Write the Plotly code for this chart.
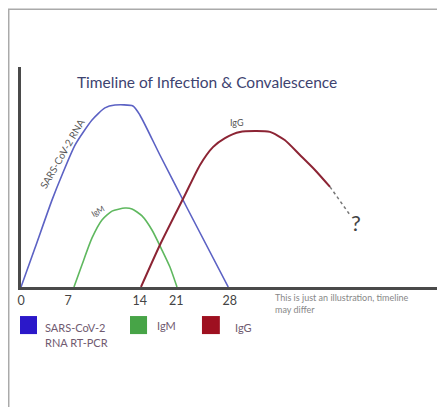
import plotly.graph_objects as go

# --- data (illustrative timeline, x in days-like units, y relative level) ---
rna_x = [0, 1.88, 4.17, 5.52, 7.27, 9.56, 11.3, 12.65, 15.07, 16.0, 18.7, 22.5, 27.9]
rna_y = [0, 17.7, 39.5, 50.9, 64.5, 75.9, 81.4, 82.7, 82.3, 78.2, 60.0, 35.0, 0]

igm_x = [7.13, 8.2, 9.56, 10.9, 12.25, 14.0, 14.94, 16.29, 17.63, 18.98, 20.05, 21.0]
igm_y = [0, 10, 22.3, 30.5, 34.5, 35.9, 35.5, 32.3, 25.9, 16.8, 9.1, 0]

igg_x = [16.15, 18.7, 22.07, 24.1, 25.84, 27.46, 29.47, 33.5, 35.5, 37.55, 39.57, 41.6]
igg_y = [0, 19.1, 41.8, 55.5, 63.6, 67.7, 70.5, 70.5, 66.8, 60.0, 53.2, 45.5]

igg_unknown_x = [41.6, 44.3]
igg_unknown_y = [45.5, 32.7]

tick_pos = [0, 6.33, 16.0, 20.9, 28.1]
tick_labels = ["0", "7", "14", "21", "28"]

BLUE, GREEN, RED = "#5c62c4", "#5fb85f", "#8c2434"

fig = go.Figure()
fig.add_trace(go.Scatter(x=rna_x, y=rna_y, mode="lines",
                         line=dict(color=BLUE, width=1.6, shape="spline", smoothing=0.6)))
fig.add_trace(go.Scatter(x=igm_x, y=igm_y, mode="lines",
                         line=dict(color=GREEN, width=1.6, shape="spline", smoothing=0.6)))
fig.add_trace(go.Scatter(x=igg_x, y=igg_y, mode="lines",
                         line=dict(color=RED, width=2, shape="spline", smoothing=0.6)))
fig.add_trace(go.Scatter(x=igg_unknown_x, y=igg_unknown_y, mode="lines",
                         line=dict(color="#777777", width=1.5, dash="dot")))

FONT = "Lato"
LEG = "#705a70"

annotations = [
    dict(text="Timeline of Infection & Convalescence", xref="paper", yref="paper",
         x=0.447, y=0.932, xanchor="center", yanchor="middle", showarrow=False,
         font=dict(family=FONT, size=15.5, color="#3d4370")),
    dict(text="IgG", x=29.07, y=75, showarrow=False, font=dict(family=FONT, size=9, color="#555555")),
    dict(text="IgM", x=10.36, y=34.5, showarrow=False, textangle=-30,
         font=dict(family=FONT, size=8, color="#555555")),
    dict(text="SARS-CoV-2 RNA", x=5.5, y=60.5, showarrow=False, textangle=-60,
         font=dict(family=FONT, size=10, color="#555555")),
    dict(text="?", x=45.1, y=29.5, showarrow=False, font=dict(family=FONT, size=22, color="#444444")),
    dict(text="This is just an illustration, timeline<br>may differ", xref="paper", yref="paper",
         x=0.606, y=-0.012, xanchor="left", yanchor="top", align="left", showarrow=False,
         font=dict(family=FONT, size=9, color="#888888")),
    dict(text="SARS-CoV-2", xref="paper", yref="paper", x=0.053, y=-0.182, xanchor="left",
         yanchor="middle", showarrow=False, font=dict(family=FONT, size=11, color=LEG)),
    dict(text="RNA RT-PCR", xref="paper", yref="paper", x=0.053, y=-0.25, xanchor="left",
         yanchor="middle", showarrow=False, font=dict(family=FONT, size=11, color=LEG)),
    dict(text="IgM", xref="paper", yref="paper", x=0.322, y=-0.177, xanchor="left",
         yanchor="middle", showarrow=False, font=dict(family=FONT, size=11, color=LEG)),
    dict(text="IgG", xref="paper", yref="paper", x=0.51, y=-0.182, xanchor="left",
         yanchor="middle", showarrow=False, font=dict(family=FONT, size=11, color=LEG)),
]

shapes = [
    dict(type="rect", xref="paper", yref="paper", x0=-0.0295, x1=1.3, y0=-0.8, y1=1.262,
         line=dict(color="#aaaaaa", width=1.5), fillcolor="rgba(0,0,0,0)", layer="below"),
    dict(type="rect", xref="paper", yref="paper", x0=-0.0024, x1=0.0385, y0=-0.214, y1=-0.132,
         line=dict(width=0), fillcolor="#2b18c9"),
    dict(type="rect", xref="paper", yref="paper", x0=0.262, x1=0.303, y0=-0.214, y1=-0.132,
         line=dict(width=0), fillcolor="#47a447"),
    dict(type="rect", xref="paper", yref="paper", x0=0.435, x1=0.478, y0=-0.214, y1=-0.132,
         line=dict(width=0), fillcolor="#9e1020"),
]

# page body has an 8px margin, so the figure is 437x399 and offset by 8px
fig.update_layout(
    width=437, height=399,
    margin=dict(l=13, r=8, t=59, b=120),
    paper_bgcolor="white", plot_bgcolor="white",
    showlegend=False,
    annotations=annotations,
    shapes=shapes,
    xaxis=dict(range=[0, 56], showgrid=False, zeroline=False, showline=True,
               linecolor="#4a4a4a", linewidth=2.5, tickmode="array",
               tickvals=tick_pos, ticktext=tick_labels, ticks="",
               tickfont=dict(family=FONT, size=12.5, color="#444444")),
    yaxis=dict(range=[0, 100], showgrid=False, zeroline=False, showline=True,
               linecolor="#4a4a4a", linewidth=2.5, showticklabels=False, ticks=""),
)

fig.write_html("out.html")
